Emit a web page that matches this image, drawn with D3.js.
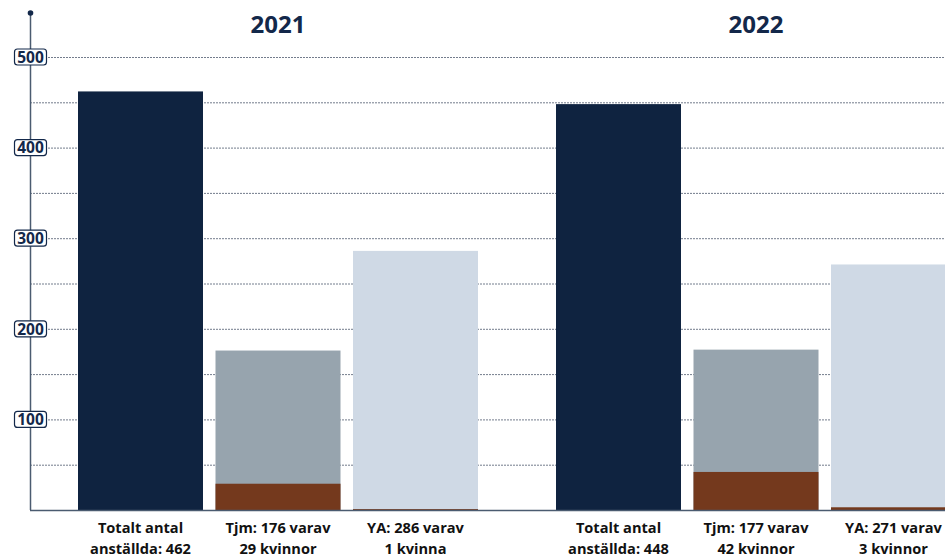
<!DOCTYPE html>
<html>
<head>
<meta charset="utf-8">
<script src="https://cdn.jsdelivr.net/npm/d3@7"></script>
<style>
  html, body { margin: 0; padding: 0; background: #fff; }
  svg text { font-family: "Open Sans", Lato, sans-serif; }
</style>
</head>
<body>
<svg id="chart" width="945" height="558"></svg>
<script>
const years = ["2021", "2022"];
const categories = ["total", "tjm", "ya"];
const totals2021 = [462, 176, 286];
const women2021 = [0, 29, 1];
const totals2022 = [448, 177, 271];
const women2022 = [0, 42, 3];
const labels2021 = [["Totalt antal", "anställda: 462"], ["Tjm: 176 varav", "29 kvinnor"], ["YA: 286 varav", "1 kvinna"]];
const labels2022 = [["Totalt antal", "anställda: 448"], ["Tjm: 177 varav", "42 kvinnor"], ["YA: 271 varav", "3 kvinnor"]];
const yTicks = [100, 200, 300, 400, 500];
const gridValues = [50, 100, 150, 200, 250, 300, 350, 400, 450, 500];

const totalsByYear = { "2021": totals2021, "2022": totals2022 };
const womenByYear = { "2021": women2021, "2022": women2022 };
const labelsByYear = { "2021": labels2021, "2022": labels2022 };

const colors = { total: "#0F2340", tjm: "#97A4AE", ya: "#CFD9E5" };
const womenColor = "#74391D";
const navy = "#13284A";

const W = 945, H = 558;
const axisX = 30, baseY = 510;
const svg = d3.select("#chart");

const y = d3.scaleLinear().domain([0, 500]).range([baseY, 57]);
const x0 = d3.scaleBand().domain(years).range([39, 995]).padding(0);
const x1 = d3.scaleBand().domain(categories).range([39, 439]).paddingInner(0.0909).paddingOuter(0);

// gridlines
svg.append("g").selectAll("line").data(gridValues).join("line")
  .attr("x1", axisX).attr("x2", W)
  .attr("y1", d => y(d) + 0.5).attr("y2", d => y(d) + 0.5)
  .attr("stroke", "#4f5a6e").attr("stroke-width", 0.8)
  .attr("stroke-dasharray", "2,1");

// bars
years.forEach(yr => {
  const g = svg.append("g").attr("transform", `translate(${x0(yr)},0)`);
  const data = categories.map((c, i) => ({ c, total: totalsByYear[yr][i], women: womenByYear[yr][i], label: labelsByYear[yr][i] }));
  g.selectAll("rect.total").data(data).join("rect")
    .attr("class", "total")
    .attr("x", d => x1(d.c)).attr("width", x1.bandwidth())
    .attr("y", d => y(d.total)).attr("height", d => y(0) - y(d.total))
    .attr("fill", d => colors[d.c]);
  g.selectAll("rect.women").data(data.filter(d => d.women > 0)).join("rect")
    .attr("class", "women")
    .attr("x", d => x1(d.c)).attr("width", x1.bandwidth())
    .attr("y", d => y(d.women)).attr("height", d => y(0) - y(d.women))
    .attr("fill", womenColor);
  // labels
  const lab = g.selectAll("text.lab").data(data).join("text")
    .attr("class", "lab")
    .attr("x", d => x1(d.c) + x1.bandwidth() / 2)
    .attr("text-anchor", "middle")
    .attr("font-weight", "bold").attr("font-size", 14.6).attr("fill", "#111");
  lab.selectAll("tspan").data(d => d.label.map((t, i) => ({ t, i, cx: x1(d.c) + x1.bandwidth() / 2 }))).join("tspan")
    .attr("x", d => d.cx).attr("y", d => 533 + d.i * 20.5).text(d => d.t);
  // year title
  g.append("text").attr("x", x0.bandwidth() / 2).attr("y", 33)
    .attr("text-anchor", "middle").attr("font-weight", "bold").attr("font-size", 24)
    .attr("fill", navy).text(yr);
});

// baseline
svg.append("line").attr("x1", axisX).attr("x2", W).attr("y1", baseY + 0.5).attr("y2", baseY + 0.5)
  .attr("stroke", "#4B5B70").attr("stroke-width", 1.5);
// vertical axis
svg.append("line").attr("x1", axisX + 0.5).attr("x2", axisX + 0.5).attr("y1", baseY).attr("y2", 13)
  .attr("stroke", "#4B5B70").attr("stroke-width", 1.5);
svg.append("circle").attr("cx", axisX + 0.5).attr("cy", 13).attr("r", 2.8).attr("fill", navy);

// tick labels
const tg = svg.append("g").selectAll("g").data(yTicks).join("g")
  .attr("transform", d => `translate(${axisX + 0.5},${y(d)})`);
tg.append("rect").attr("x", -16).attr("y", -8).attr("width", 32).attr("height", 16).attr("rx", 3)
  .attr("fill", "#fff").attr("stroke", navy).attr("stroke-width", 1.2);
tg.append("text").attr("text-anchor", "middle").attr("dy", "0.37em")
  .attr("font-weight", "bold").attr("font-size", 15.5).attr("fill", navy).text(d => d);
</script>
</body>
</html>
